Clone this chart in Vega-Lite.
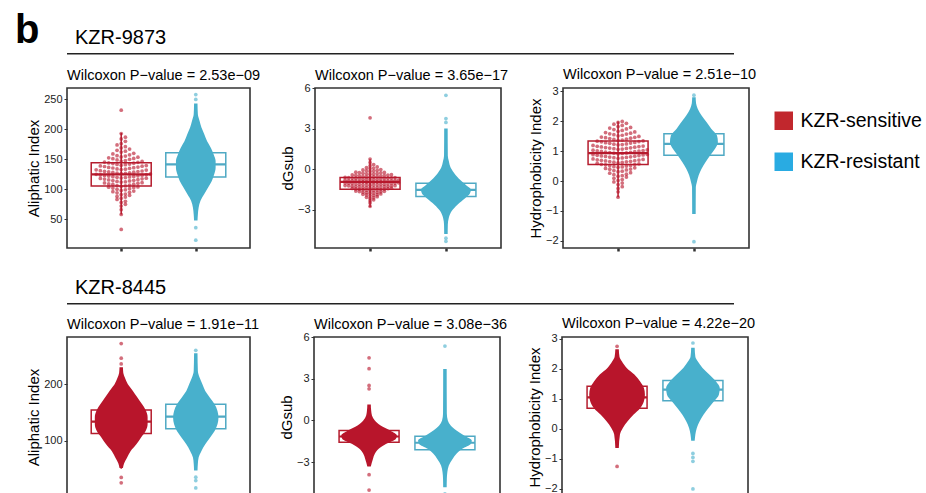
{
  "$schema": "https://vega.github.io/schema/vega-lite/v6.json",
  "background": "white",
  "padding": {"left": 15, "top": 11, "right": 10, "bottom": 0},
  "title": {"text": "b", "fontSize": 40, "fontWeight": "bold", "anchor": "start", "dx": -52, "offset": -23},
  "config": {
    "font": "Liberation Sans",
    "view": {"stroke": "#333333", "strokeWidth": 1.6},
    "title": {"fontSize": 14.5, "fontWeight": "normal", "anchor": "start", "color": "#000000", "offset": 5, "frame": "group"},
    "axis": {"grid": false, "domain": false, "tickColor": "#333333", "labelColor": "#222222", "labelFontSize": 11, "titleFontSize": 15, "titleFontWeight": "normal", "titleColor": "#000000", "tickSize": 3, "labelPadding": 2, "titlePadding": 2, "labelOverlap": false, "labelSeparation": 0, "labelBound": false, "labelFlush": false},
    "axisX": {"labels": false, "tickWidth": 2.5, "tickSize": 3},
    "axisY": {"tickWidth": 1, "labelOverlap": false}
  },
  "datasets": {
    "groups": [{"grp": "KZR-sensitive"}, {"grp": "KZR-resistant"}],
    "box": [
      {"p":"A1","g":"S","lo":58,"q1":105.5,"med":125,"q3":144.4,"hi":194},
      {"p":"A1","g":"R","lo":60,"q1":120.5,"med":141.5,"q3":161,"hi":221},
      {"p":"A2","g":"S","lo":-2.79,"q1":-1.48,"med":-0.94,"q3":-0.62,"hi":0.74},
      {"p":"A2","g":"R","lo":-3.49,"q1":-2.02,"med":-1.53,"q3":-1.04,"hi":0.43},
      {"p":"A3","g":"S","lo":-0.54,"q1":0.55,"med":0.93,"q3":1.34,"hi":1.99},
      {"p":"A3","g":"R","lo":-0.22,"q1":0.86,"med":1.24,"q3":1.58,"hi":2.66},
      {"p":"B1","g":"S","lo":51,"q1":112.9,"med":134,"q3":154.7,"hi":217},
      {"p":"B1","g":"R","lo":58,"q1":121.7,"med":142.9,"q3":164.7,"hi":229},
      {"p":"B2","g":"S","lo":-2.8,"q1":-1.56,"med":-1.15,"q3":-0.72,"hi":0.5},
      {"p":"B2","g":"R","lo":-3.58,"q1":-2.11,"med":-1.6,"q3":-1.13,"hi":0.34},
      {"p":"B3","g":"S","lo":-0.4,"q1":0.69,"med":1.05,"q3":1.42,"hi":2.5},
      {"p":"B3","g":"R","lo":-0.07,"q1":0.94,"med":1.31,"q3":1.61,"hi":2.6}
    ],
    "vio": [
      {"p":"A1","g":"R","v":48,"w":0.023},{"p":"A1","g":"R","v":58,"w":0.028},{"p":"A1","g":"R","v":69,"w":0.038},{"p":"A1","g":"R","v":81,"w":0.063},{"p":"A1","g":"R","v":92,"w":0.114},{"p":"A1","g":"R","v":103,"w":0.165},{"p":"A1","g":"R","v":114,"w":0.215},{"p":"A1","g":"R","v":125,"w":0.247},{"p":"A1","g":"R","v":136,"w":0.266},{"p":"A1","g":"R","v":147,"w":0.266},{"p":"A1","g":"R","v":158,"w":0.24},{"p":"A1","g":"R","v":169,"w":0.203},{"p":"A1","g":"R","v":180,"w":0.152},{"p":"A1","g":"R","v":192,"w":0.114},{"p":"A1","g":"R","v":203,"w":0.076},{"p":"A1","g":"R","v":214,"w":0.051},{"p":"A1","g":"R","v":225,"w":0.028},{"p":"A1","g":"R","v":243,"w":0.023},
      {"p":"A2","g":"R","v":-4.8,"w":0.023},{"p":"A2","g":"R","v":-4.1,"w":0.025},{"p":"A2","g":"R","v":-3.6,"w":0.038},{"p":"A2","g":"R","v":-3.1,"w":0.076},{"p":"A2","g":"R","v":-2.63,"w":0.152},{"p":"A2","g":"R","v":-2.15,"w":0.253},{"p":"A2","g":"R","v":-1.8,"w":0.316},{"p":"A2","g":"R","v":-1.5,"w":0.329},{"p":"A2","g":"R","v":-1.2,"w":0.27},{"p":"A2","g":"R","v":-0.93,"w":0.215},{"p":"A2","g":"R","v":-0.43,"w":0.127},{"p":"A2","g":"R","v":0.1,"w":0.063},{"p":"A2","g":"R","v":0.6,"w":0.038},{"p":"A2","g":"R","v":1.0,"w":0.025},{"p":"A2","g":"R","v":3.0,"w":0.023},
      {"p":"A3","g":"R","v":-1.1,"w":0.023},{"p":"A3","g":"R","v":-0.2,"w":0.025},{"p":"A3","g":"R","v":-0.04,"w":0.038},{"p":"A3","g":"R","v":0.19,"w":0.063},{"p":"A3","g":"R","v":0.41,"w":0.101},{"p":"A3","g":"R","v":0.63,"w":0.152},{"p":"A3","g":"R","v":0.86,"w":0.215},{"p":"A3","g":"R","v":1.08,"w":0.278},{"p":"A3","g":"R","v":1.3,"w":0.316},{"p":"A3","g":"R","v":1.52,"w":0.304},{"p":"A3","g":"R","v":1.75,"w":0.228},{"p":"A3","g":"R","v":1.97,"w":0.165},{"p":"A3","g":"R","v":2.19,"w":0.101},{"p":"A3","g":"R","v":2.41,"w":0.051},{"p":"A3","g":"R","v":2.6,"w":0.028},{"p":"A3","g":"R","v":2.8,"w":0.023},
      {"p":"B1","g":"S","v":52,"w":0.023},{"p":"B1","g":"S","v":60,"w":0.038},{"p":"B1","g":"S","v":70,"w":0.076},{"p":"B1","g":"S","v":82,"w":0.127},{"p":"B1","g":"S","v":94,"w":0.203},{"p":"B1","g":"S","v":106,"w":0.266},{"p":"B1","g":"S","v":118,"w":0.329},{"p":"B1","g":"S","v":130,"w":0.354},{"p":"B1","g":"S","v":142,"w":0.354},{"p":"B1","g":"S","v":154,"w":0.329},{"p":"B1","g":"S","v":165,"w":0.278},{"p":"B1","g":"S","v":177,"w":0.215},{"p":"B1","g":"S","v":189,"w":0.152},{"p":"B1","g":"S","v":200,"w":0.089},{"p":"B1","g":"S","v":211,"w":0.051},{"p":"B1","g":"S","v":220,"w":0.028},{"p":"B1","g":"S","v":230,"w":0.023},
      {"p":"B1","g":"R","v":48,"w":0.023},{"p":"B1","g":"R","v":60,"w":0.028},{"p":"B1","g":"R","v":70.6,"w":0.038},{"p":"B1","g":"R","v":82.3,"w":0.076},{"p":"B1","g":"R","v":94.2,"w":0.127},{"p":"B1","g":"R","v":105.8,"w":0.19},{"p":"B1","g":"R","v":117.6,"w":0.253},{"p":"B1","g":"R","v":129.4,"w":0.291},{"p":"B1","g":"R","v":141.1,"w":0.304},{"p":"B1","g":"R","v":152.9,"w":0.291},{"p":"B1","g":"R","v":164.7,"w":0.253},{"p":"B1","g":"R","v":176.4,"w":0.19},{"p":"B1","g":"R","v":188.2,"w":0.127},{"p":"B1","g":"R","v":200,"w":0.089},{"p":"B1","g":"R","v":211.8,"w":0.051},{"p":"B1","g":"R","v":223.5,"w":0.028},{"p":"B1","g":"R","v":255,"w":0.023},
      {"p":"B2","g":"S","v":-3.3,"w":0.023},{"p":"B2","g":"S","v":-2.76,"w":0.051},{"p":"B2","g":"S","v":-2.4,"w":0.076},{"p":"B2","g":"S","v":-2.04,"w":0.127},{"p":"B2","g":"S","v":-1.68,"w":0.228},{"p":"B2","g":"S","v":-1.32,"w":0.354},{"p":"B2","g":"S","v":-1.08,"w":0.367},{"p":"B2","g":"S","v":-0.72,"w":0.278},{"p":"B2","g":"S","v":-0.36,"w":0.152},{"p":"B2","g":"S","v":0,"w":0.076},{"p":"B2","g":"S","v":0.36,"w":0.038},{"p":"B2","g":"S","v":0.7,"w":0.028},{"p":"B2","g":"S","v":1.15,"w":0.023},
      {"p":"B2","g":"R","v":-4.8,"w":0.023},{"p":"B2","g":"R","v":-4.2,"w":0.025},{"p":"B2","g":"R","v":-3.7,"w":0.032},{"p":"B2","g":"R","v":-3.24,"w":0.051},{"p":"B2","g":"R","v":-2.76,"w":0.101},{"p":"B2","g":"R","v":-2.4,"w":0.152},{"p":"B2","g":"R","v":-2.04,"w":0.228},{"p":"B2","g":"R","v":-1.68,"w":0.342},{"p":"B2","g":"R","v":-1.44,"w":0.354},{"p":"B2","g":"R","v":-1.08,"w":0.253},{"p":"B2","g":"R","v":-0.72,"w":0.152},{"p":"B2","g":"R","v":-0.36,"w":0.076},{"p":"B2","g":"R","v":0,"w":0.038},{"p":"B2","g":"R","v":0.5,"w":0.025},{"p":"B2","g":"R","v":3.7,"w":0.023},
      {"p":"B3","g":"S","v":-0.64,"w":0.023},{"p":"B3","g":"S","v":-0.19,"w":0.038},{"p":"B3","g":"S","v":0.03,"w":0.076},{"p":"B3","g":"S","v":0.25,"w":0.139},{"p":"B3","g":"S","v":0.47,"w":0.215},{"p":"B3","g":"S","v":0.69,"w":0.304},{"p":"B3","g":"S","v":0.92,"w":0.354},{"p":"B3","g":"S","v":1.14,"w":0.367},{"p":"B3","g":"S","v":1.36,"w":0.354},{"p":"B3","g":"S","v":1.58,"w":0.304},{"p":"B3","g":"S","v":1.81,"w":0.228},{"p":"B3","g":"S","v":2.03,"w":0.127},{"p":"B3","g":"S","v":2.25,"w":0.063},{"p":"B3","g":"S","v":2.4,"w":0.032},{"p":"B3","g":"S","v":2.65,"w":0.023},
      {"p":"B3","g":"R","v":-0.4,"w":0.023},{"p":"B3","g":"R","v":-0.19,"w":0.032},{"p":"B3","g":"R","v":0.03,"w":0.051},{"p":"B3","g":"R","v":0.25,"w":0.089},{"p":"B3","g":"R","v":0.47,"w":0.139},{"p":"B3","g":"R","v":0.69,"w":0.203},{"p":"B3","g":"R","v":0.92,"w":0.278},{"p":"B3","g":"R","v":1.14,"w":0.342},{"p":"B3","g":"R","v":1.36,"w":0.354},{"p":"B3","g":"R","v":1.58,"w":0.304},{"p":"B3","g":"R","v":1.81,"w":0.215},{"p":"B3","g":"R","v":2.03,"w":0.127},{"p":"B3","g":"R","v":2.25,"w":0.063},{"p":"B3","g":"R","v":2.4,"w":0.032},{"p":"B3","g":"R","v":2.7,"w":0.023}
    ],
    "pts": [
      {"p":"A1","g":"S","v":58},{"p":"A1","g":"S","v":66},{"p":"A1","g":"S","v":72},{"p":"A1","g":"S","v":75},{"p":"A1","g":"S","v":78},{"p":"A1","g":"S","v":80},{"p":"A1","g":"S","v":83},{"p":"A1","g":"S","v":85},{"p":"A1","g":"S","v":87},{"p":"A1","g":"S","v":88},{"p":"A1","g":"S","v":90},{"p":"A1","g":"S","v":91},{"p":"A1","g":"S","v":92},{"p":"A1","g":"S","v":94},{"p":"A1","g":"S","v":95},{"p":"A1","g":"S","v":96},{"p":"A1","g":"S","v":97},{"p":"A1","g":"S","v":98},{"p":"A1","g":"S","v":99},{"p":"A1","g":"S","v":100},{"p":"A1","g":"S","v":101},{"p":"A1","g":"S","v":102},{"p":"A1","g":"S","v":103},{"p":"A1","g":"S","v":103.5},{"p":"A1","g":"S","v":104},{"p":"A1","g":"S","v":105},{"p":"A1","g":"S","v":105.5},{"p":"A1","g":"S","v":106},{"p":"A1","g":"S","v":107},{"p":"A1","g":"S","v":108},{"p":"A1","g":"S","v":108.5},{"p":"A1","g":"S","v":109},{"p":"A1","g":"S","v":110},{"p":"A1","g":"S","v":110.5},{"p":"A1","g":"S","v":111},{"p":"A1","g":"S","v":112},{"p":"A1","g":"S","v":112.5},{"p":"A1","g":"S","v":113},{"p":"A1","g":"S","v":114},{"p":"A1","g":"S","v":114.5},{"p":"A1","g":"S","v":115},{"p":"A1","g":"S","v":115.5},{"p":"A1","g":"S","v":116},{"p":"A1","g":"S","v":117},{"p":"A1","g":"S","v":117.5},{"p":"A1","g":"S","v":118},{"p":"A1","g":"S","v":118.5},{"p":"A1","g":"S","v":119},{"p":"A1","g":"S","v":119.5},{"p":"A1","g":"S","v":120},{"p":"A1","g":"S","v":120.5},{"p":"A1","g":"S","v":121},{"p":"A1","g":"S","v":121.5},{"p":"A1","g":"S","v":122},{"p":"A1","g":"S","v":122.5},{"p":"A1","g":"S","v":123},{"p":"A1","g":"S","v":123.5},{"p":"A1","g":"S","v":124},{"p":"A1","g":"S","v":124.5},{"p":"A1","g":"S","v":125},{"p":"A1","g":"S","v":125.5},{"p":"A1","g":"S","v":126},{"p":"A1","g":"S","v":126.5},{"p":"A1","g":"S","v":127},{"p":"A1","g":"S","v":127.5},{"p":"A1","g":"S","v":128},{"p":"A1","g":"S","v":128.5},{"p":"A1","g":"S","v":129},{"p":"A1","g":"S","v":129.5},{"p":"A1","g":"S","v":130},{"p":"A1","g":"S","v":130.5},{"p":"A1","g":"S","v":131},{"p":"A1","g":"S","v":132},{"p":"A1","g":"S","v":132.5},{"p":"A1","g":"S","v":133},{"p":"A1","g":"S","v":133.5},{"p":"A1","g":"S","v":134},{"p":"A1","g":"S","v":135},{"p":"A1","g":"S","v":135.5},{"p":"A1","g":"S","v":136},{"p":"A1","g":"S","v":136.5},{"p":"A1","g":"S","v":137},{"p":"A1","g":"S","v":138},{"p":"A1","g":"S","v":138.5},{"p":"A1","g":"S","v":139},{"p":"A1","g":"S","v":139.5},{"p":"A1","g":"S","v":140},{"p":"A1","g":"S","v":141},{"p":"A1","g":"S","v":141.5},{"p":"A1","g":"S","v":142},{"p":"A1","g":"S","v":143},{"p":"A1","g":"S","v":143.5},{"p":"A1","g":"S","v":144},{"p":"A1","g":"S","v":145},{"p":"A1","g":"S","v":145.5},{"p":"A1","g":"S","v":146.5},{"p":"A1","g":"S","v":147},{"p":"A1","g":"S","v":148},{"p":"A1","g":"S","v":149},{"p":"A1","g":"S","v":150},{"p":"A1","g":"S","v":151},{"p":"A1","g":"S","v":151.5},{"p":"A1","g":"S","v":152.5},{"p":"A1","g":"S","v":153.5},{"p":"A1","g":"S","v":154},{"p":"A1","g":"S","v":155.5},{"p":"A1","g":"S","v":156},{"p":"A1","g":"S","v":157.5},{"p":"A1","g":"S","v":159},{"p":"A1","g":"S","v":160},{"p":"A1","g":"S","v":162},{"p":"A1","g":"S","v":163.5},{"p":"A1","g":"S","v":165},{"p":"A1","g":"S","v":167},{"p":"A1","g":"S","v":169},{"p":"A1","g":"S","v":171},{"p":"A1","g":"S","v":174},{"p":"A1","g":"S","v":176},{"p":"A1","g":"S","v":180},{"p":"A1","g":"S","v":184},{"p":"A1","g":"S","v":187},{"p":"A1","g":"S","v":193},{"p":"A1","g":"S","v":232},{"p":"A1","g":"S","v":33},
      {"p":"A1","g":"R","v":258},{"p":"A1","g":"R","v":250},{"p":"A1","g":"R","v":36},{"p":"A1","g":"R","v":15},
      {"p":"A2","g":"S","v":-2.75},{"p":"A2","g":"S","v":-2.5},{"p":"A2","g":"S","v":-2.33},{"p":"A2","g":"S","v":-2.27},{"p":"A2","g":"S","v":-2.16},{"p":"A2","g":"S","v":-2.12},{"p":"A2","g":"S","v":-2.08},{"p":"A2","g":"S","v":-2.04},{"p":"A2","g":"S","v":-1.97},{"p":"A2","g":"S","v":-1.94},{"p":"A2","g":"S","v":-1.91},{"p":"A2","g":"S","v":-1.89},{"p":"A2","g":"S","v":-1.86},{"p":"A2","g":"S","v":-1.83},{"p":"A2","g":"S","v":-1.78},{"p":"A2","g":"S","v":-1.76},{"p":"A2","g":"S","v":-1.74},{"p":"A2","g":"S","v":-1.72},{"p":"A2","g":"S","v":-1.7},{"p":"A2","g":"S","v":-1.68},{"p":"A2","g":"S","v":-1.66},{"p":"A2","g":"S","v":-1.64},{"p":"A2","g":"S","v":-1.62},{"p":"A2","g":"S","v":-1.59},{"p":"A2","g":"S","v":-1.57},{"p":"A2","g":"S","v":-1.56},{"p":"A2","g":"S","v":-1.54},{"p":"A2","g":"S","v":-1.53},{"p":"A2","g":"S","v":-1.51},{"p":"A2","g":"S","v":-1.49},{"p":"A2","g":"S","v":-1.47},{"p":"A2","g":"S","v":-1.46},{"p":"A2","g":"S","v":-1.44},{"p":"A2","g":"S","v":-1.43},{"p":"A2","g":"S","v":-1.41},{"p":"A2","g":"S","v":-1.39},{"p":"A2","g":"S","v":-1.38},{"p":"A2","g":"S","v":-1.36},{"p":"A2","g":"S","v":-1.35},{"p":"A2","g":"S","v":-1.34},{"p":"A2","g":"S","v":-1.32},{"p":"A2","g":"S","v":-1.31},{"p":"A2","g":"S","v":-1.3},{"p":"A2","g":"S","v":-1.29},{"p":"A2","g":"S","v":-1.27},{"p":"A2","g":"S","v":-1.26},{"p":"A2","g":"S","v":-1.25},{"p":"A2","g":"S","v":-1.23},{"p":"A2","g":"S","v":-1.22},{"p":"A2","g":"S","v":-1.21},{"p":"A2","g":"S","v":-1.19},{"p":"A2","g":"S","v":-1.18},{"p":"A2","g":"S","v":-1.17},{"p":"A2","g":"S","v":-1.16},{"p":"A2","g":"S","v":-1.15},{"p":"A2","g":"S","v":-1.13},{"p":"A2","g":"S","v":-1.12},{"p":"A2","g":"S","v":-1.11},{"p":"A2","g":"S","v":-1.09},{"p":"A2","g":"S","v":-1.08},{"p":"A2","g":"S","v":-1.07},{"p":"A2","g":"S","v":-1.06},{"p":"A2","g":"S","v":-1.04},{"p":"A2","g":"S","v":-1.03},{"p":"A2","g":"S","v":-1.02},{"p":"A2","g":"S","v":-1.01},{"p":"A2","g":"S","v":-0.99},{"p":"A2","g":"S","v":-0.98},{"p":"A2","g":"S","v":-0.97},{"p":"A2","g":"S","v":-0.96},{"p":"A2","g":"S","v":-0.94},{"p":"A2","g":"S","v":-0.93},{"p":"A2","g":"S","v":-0.92},{"p":"A2","g":"S","v":-0.91},{"p":"A2","g":"S","v":-0.89},{"p":"A2","g":"S","v":-0.88},{"p":"A2","g":"S","v":-0.87},{"p":"A2","g":"S","v":-0.86},{"p":"A2","g":"S","v":-0.84},{"p":"A2","g":"S","v":-0.83},{"p":"A2","g":"S","v":-0.82},{"p":"A2","g":"S","v":-0.81},{"p":"A2","g":"S","v":-0.79},{"p":"A2","g":"S","v":-0.78},{"p":"A2","g":"S","v":-0.76},{"p":"A2","g":"S","v":-0.75},{"p":"A2","g":"S","v":-0.74},{"p":"A2","g":"S","v":-0.72},{"p":"A2","g":"S","v":-0.71},{"p":"A2","g":"S","v":-0.7},{"p":"A2","g":"S","v":-0.69},{"p":"A2","g":"S","v":-0.67},{"p":"A2","g":"S","v":-0.66},{"p":"A2","g":"S","v":-0.65},{"p":"A2","g":"S","v":-0.63},{"p":"A2","g":"S","v":-0.62},{"p":"A2","g":"S","v":-0.61},{"p":"A2","g":"S","v":-0.59},{"p":"A2","g":"S","v":-0.57},{"p":"A2","g":"S","v":-0.56},{"p":"A2","g":"S","v":-0.54},{"p":"A2","g":"S","v":-0.53},{"p":"A2","g":"S","v":-0.51},{"p":"A2","g":"S","v":-0.49},{"p":"A2","g":"S","v":-0.47},{"p":"A2","g":"S","v":-0.46},{"p":"A2","g":"S","v":-0.44},{"p":"A2","g":"S","v":-0.43},{"p":"A2","g":"S","v":-0.41},{"p":"A2","g":"S","v":-0.38},{"p":"A2","g":"S","v":-0.36},{"p":"A2","g":"S","v":-0.34},{"p":"A2","g":"S","v":-0.32},{"p":"A2","g":"S","v":-0.3},{"p":"A2","g":"S","v":-0.28},{"p":"A2","g":"S","v":-0.26},{"p":"A2","g":"S","v":-0.24},{"p":"A2","g":"S","v":-0.22},{"p":"A2","g":"S","v":-0.17},{"p":"A2","g":"S","v":-0.14},{"p":"A2","g":"S","v":-0.11},{"p":"A2","g":"S","v":-0.09},{"p":"A2","g":"S","v":-0.06},{"p":"A2","g":"S","v":-0.03},{"p":"A2","g":"S","v":0.04},{"p":"A2","g":"S","v":0.08},{"p":"A2","g":"S","v":0.12},{"p":"A2","g":"S","v":0.16},{"p":"A2","g":"S","v":0.26},{"p":"A2","g":"S","v":0.34},{"p":"A2","g":"S","v":0.5},{"p":"A2","g":"S","v":0.75},{"p":"A2","g":"S","v":3.8},
      {"p":"A2","g":"R","v":5.46},{"p":"A2","g":"R","v":3.74},{"p":"A2","g":"R","v":3.45},{"p":"A2","g":"R","v":-5.1},{"p":"A2","g":"R","v":-5.34},
      {"p":"A3","g":"S","v":-0.54},{"p":"A3","g":"S","v":-0.36},{"p":"A3","g":"S","v":-0.25},{"p":"A3","g":"S","v":-0.19},{"p":"A3","g":"S","v":-0.12},{"p":"A3","g":"S","v":-0.07},{"p":"A3","g":"S","v":-0.03},{"p":"A3","g":"S","v":0.02},{"p":"A3","g":"S","v":0.05},{"p":"A3","g":"S","v":0.09},{"p":"A3","g":"S","v":0.13},{"p":"A3","g":"S","v":0.16},{"p":"A3","g":"S","v":0.18},{"p":"A3","g":"S","v":0.21},{"p":"A3","g":"S","v":0.23},{"p":"A3","g":"S","v":0.26},{"p":"A3","g":"S","v":0.28},{"p":"A3","g":"S","v":0.31},{"p":"A3","g":"S","v":0.33},{"p":"A3","g":"S","v":0.35},{"p":"A3","g":"S","v":0.37},{"p":"A3","g":"S","v":0.39},{"p":"A3","g":"S","v":0.4},{"p":"A3","g":"S","v":0.42},{"p":"A3","g":"S","v":0.44},{"p":"A3","g":"S","v":0.46},{"p":"A3","g":"S","v":0.47},{"p":"A3","g":"S","v":0.48},{"p":"A3","g":"S","v":0.5},{"p":"A3","g":"S","v":0.51},{"p":"A3","g":"S","v":0.52},{"p":"A3","g":"S","v":0.54},{"p":"A3","g":"S","v":0.55},{"p":"A3","g":"S","v":0.56},{"p":"A3","g":"S","v":0.57},{"p":"A3","g":"S","v":0.59},{"p":"A3","g":"S","v":0.61},{"p":"A3","g":"S","v":0.62},{"p":"A3","g":"S","v":0.63},{"p":"A3","g":"S","v":0.64},{"p":"A3","g":"S","v":0.65},{"p":"A3","g":"S","v":0.66},{"p":"A3","g":"S","v":0.67},{"p":"A3","g":"S","v":0.68},{"p":"A3","g":"S","v":0.69},{"p":"A3","g":"S","v":0.7},{"p":"A3","g":"S","v":0.71},{"p":"A3","g":"S","v":0.72},{"p":"A3","g":"S","v":0.74},{"p":"A3","g":"S","v":0.76},{"p":"A3","g":"S","v":0.77},{"p":"A3","g":"S","v":0.78},{"p":"A3","g":"S","v":0.79},{"p":"A3","g":"S","v":0.8},{"p":"A3","g":"S","v":0.81},{"p":"A3","g":"S","v":0.82},{"p":"A3","g":"S","v":0.83},{"p":"A3","g":"S","v":0.84},{"p":"A3","g":"S","v":0.85},{"p":"A3","g":"S","v":0.86},{"p":"A3","g":"S","v":0.87},{"p":"A3","g":"S","v":0.88},{"p":"A3","g":"S","v":0.89},{"p":"A3","g":"S","v":0.91},{"p":"A3","g":"S","v":0.92},{"p":"A3","g":"S","v":0.93},{"p":"A3","g":"S","v":0.94},{"p":"A3","g":"S","v":0.95},{"p":"A3","g":"S","v":0.96},{"p":"A3","g":"S","v":0.97},{"p":"A3","g":"S","v":0.98},{"p":"A3","g":"S","v":0.99},{"p":"A3","g":"S","v":1.0},{"p":"A3","g":"S","v":1.01},{"p":"A3","g":"S","v":1.02},{"p":"A3","g":"S","v":1.03},{"p":"A3","g":"S","v":1.04},{"p":"A3","g":"S","v":1.06},{"p":"A3","g":"S","v":1.07},{"p":"A3","g":"S","v":1.08},{"p":"A3","g":"S","v":1.09},{"p":"A3","g":"S","v":1.1},{"p":"A3","g":"S","v":1.11},{"p":"A3","g":"S","v":1.12},{"p":"A3","g":"S","v":1.13},{"p":"A3","g":"S","v":1.14},{"p":"A3","g":"S","v":1.15},{"p":"A3","g":"S","v":1.16},{"p":"A3","g":"S","v":1.17},{"p":"A3","g":"S","v":1.19},{"p":"A3","g":"S","v":1.21},{"p":"A3","g":"S","v":1.22},{"p":"A3","g":"S","v":1.23},{"p":"A3","g":"S","v":1.24},{"p":"A3","g":"S","v":1.26},{"p":"A3","g":"S","v":1.27},{"p":"A3","g":"S","v":1.28},{"p":"A3","g":"S","v":1.29},{"p":"A3","g":"S","v":1.31},{"p":"A3","g":"S","v":1.32},{"p":"A3","g":"S","v":1.33},{"p":"A3","g":"S","v":1.34},{"p":"A3","g":"S","v":1.36},{"p":"A3","g":"S","v":1.37},{"p":"A3","g":"S","v":1.39},{"p":"A3","g":"S","v":1.4},{"p":"A3","g":"S","v":1.42},{"p":"A3","g":"S","v":1.43},{"p":"A3","g":"S","v":1.45},{"p":"A3","g":"S","v":1.46},{"p":"A3","g":"S","v":1.47},{"p":"A3","g":"S","v":1.49},{"p":"A3","g":"S","v":1.51},{"p":"A3","g":"S","v":1.53},{"p":"A3","g":"S","v":1.55},{"p":"A3","g":"S","v":1.57},{"p":"A3","g":"S","v":1.58},{"p":"A3","g":"S","v":1.6},{"p":"A3","g":"S","v":1.62},{"p":"A3","g":"S","v":1.64},{"p":"A3","g":"S","v":1.66},{"p":"A3","g":"S","v":1.69},{"p":"A3","g":"S","v":1.72},{"p":"A3","g":"S","v":1.74},{"p":"A3","g":"S","v":1.77},{"p":"A3","g":"S","v":1.79},{"p":"A3","g":"S","v":1.82},{"p":"A3","g":"S","v":1.86},{"p":"A3","g":"S","v":1.9},{"p":"A3","g":"S","v":1.93},{"p":"A3","g":"S","v":1.96},{"p":"A3","g":"S","v":1.99},
      {"p":"A3","g":"R","v":2.87},{"p":"A3","g":"R","v":-2.03},
      {"p":"B1","g":"S","v":272},{"p":"B1","g":"S","v":246},{"p":"B1","g":"S","v":236},{"p":"B1","g":"S","v":35.5},{"p":"B1","g":"S","v":26},
      {"p":"B1","g":"R","v":260},{"p":"B1","g":"R","v":36},{"p":"B1","g":"R","v":30},{"p":"B1","g":"R","v":17},
      {"p":"B2","g":"S","v":4.5},{"p":"B2","g":"S","v":3.72},{"p":"B2","g":"S","v":2.52},{"p":"B2","g":"S","v":2.28},{"p":"B2","g":"S","v":-3.9},{"p":"B2","g":"S","v":-5.0},
      {"p":"B2","g":"R","v":5.35},{"p":"B2","g":"R","v":-5.27},
      {"p":"B3","g":"S","v":2.75},{"p":"B3","g":"S","v":-1.25},
      {"p":"B3","g":"R","v":2.86},{"p":"B3","g":"R","v":-0.82},{"p":"B3","g":"R","v":-0.95},{"p":"B3","g":"R","v":-1.08},{"p":"B3","g":"R","v":-2.0}
    ]
  },
  "vconcat": [
    {
      "vconcat": [
        {"width": 667, "height": 1.5, "data": {"values": []}, "mark": "point", "view": {"fill": "#222222", "stroke": null}, "title": {"text": "KZR-9873", "fontSize": 20, "dx": 8, "offset": 5}},
        {"hconcat": [
          {"width": 183, "height": 160, "title": {"text": "Wilcoxon P−value = 2.53e−09"},
           "layer": [
             {"data": {"name": "box"}, "transform": [{"filter": "datum.p == 'A1'"}, {"calculate": "datum.g == 'S' ? 1 : 2", "as": "x"}],
              "layer": [
                {"mark": {"type": "rule", "strokeWidth": 1.5}, "encoding": {"x": {"field": "x", "type": "quantitative", "scale": {"domain": [0.34, 2.66], "nice": false, "zero": false}, "axis": {"values": [1, 2]}, "title": null}, "y": {"field": "lo", "type": "quantitative", "scale": {"domain": [2, 269], "nice": false, "zero": false}, "axis": {"values": [50, 100, 150, 200, 250], "labelOverlap": false}, "title": "Aliphatic Index"}, "y2": {"field": "hi"}, "stroke": {"field": "g", "type": "nominal", "scale": {"domain": ["S", "R"], "range": ["#b51d2e", "#4fa9c4"]}, "legend": null}}},
                {"mark": {"type": "bar", "size": 60, "filled": false, "strokeWidth": 1.5}, "encoding": {"x": {"field": "x", "type": "quantitative", "title": null}, "y": {"field": "q1", "type": "quantitative", "axis": {"values": [50, 100, 150, 200, 250], "labelOverlap": false}, "title": "Aliphatic Index"}, "y2": {"field": "q3"}, "stroke": {"field": "g", "type": "nominal", "legend": null}}},
                {"mark": {"type": "bar", "size": 60, "filled": false, "strokeWidth": 2.2}, "encoding": {"x": {"field": "x", "type": "quantitative", "title": null}, "y": {"field": "med", "type": "quantitative", "axis": {"values": [50, 100, 150, 200, 250], "labelOverlap": false}, "title": "Aliphatic Index"}, "y2": {"field": "med"}, "stroke": {"field": "g", "type": "nominal", "legend": null}}}
              ]},
             {"data": {"name": "groups"},
              "mark": {"type": "square", "size": 0, "opacity": 1},
              "encoding": {"color": {"field": "grp", "type": "nominal", "scale": {"domain": ["KZR-sensitive", "KZR-resistant"], "range": ["#c1272d", "#29abe2"]}, "legend": {"title": null, "orient": "none", "legendX": 707, "legendY": 58, "symbolType": "square", "symbolSize": 342, "symbolStrokeWidth": 0, "symbolOpacity": 1, "labelFontSize": 19.5, "labelColor": "#000000", "labelOffset": 7, "rowPadding": 20}}}},
             {"data": {"name": "vio"}, "transform": [{"filter": "datum.p == 'A1'"}, {"calculate": "datum.g == 'S' ? 1 : 2", "as": "x"}, {"calculate": "datum.x - datum.w", "as": "x0"}, {"calculate": "datum.x + datum.w", "as": "x1"}],
              "mark": {"type": "area", "orient": "horizontal", "interpolate": "monotone"},
              "encoding": {"y": {"field": "v", "type": "quantitative", "axis": {"values": [50, 100, 150, 200, 250], "labelOverlap": false}, "title": "Aliphatic Index"}, "x": {"field": "x0", "type": "quantitative", "title": null}, "x2": {"field": "x1"}, "fill": {"field": "g", "type": "nominal", "scale": {"domain": ["S", "R"], "range": ["#b8152b", "#48b0cc"]}, "legend": null}}},
             {"data": {"name": "pts"}, "transform": [{"filter": "datum.p == 'A1'"}, {"calculate": "datum.g == 'S' ? 1 : 2", "as": "x"}, {"bin": {"step": 7, "anchor": 0}, "field": "v", "as": "vb"}, {"window": [{"op": "row_number", "as": "r"}], "groupby": ["g", "vb"]}, {"calculate": "datum.x + (datum.r % 2 == 0 ? 1 : -1) * floor(datum.r / 2) * 0.056", "as": "px"}],
              "mark": {"type": "circle", "size": 14, "opacity": 0.62},
              "encoding": {"y": {"field": "v", "type": "quantitative", "axis": {"values": [50, 100, 150, 200, 250], "labelOverlap": false}, "title": "Aliphatic Index"}, "x": {"field": "px", "type": "quantitative", "title": null}, "fill": {"field": "g", "type": "nominal", "legend": null}}}
           ]},
          {"width": 186, "height": 160, "title": {"text": "Wilcoxon P−value = 3.65e−17", "offset": -1},
           "layer": [
             {"data": {"name": "box"}, "transform": [{"filter": "datum.p == 'A2'"}, {"calculate": "datum.g == 'S' ? 1 : 2", "as": "x"}],
              "layer": [
                {"mark": {"type": "rule", "strokeWidth": 1.5}, "encoding": {"x": {"field": "x", "type": "quantitative", "scale": {"domain": [0.34, 2.66], "nice": false, "zero": false}, "axis": {"values": [1, 2]}, "title": null}, "y": {"field": "lo", "type": "quantitative", "scale": {"domain": [-5.83, 6], "nice": false, "zero": false}, "axis": {"values": [-3, 0, 3, 6], "labelOverlap": false}, "title": "dGsub"}, "y2": {"field": "hi"}, "stroke": {"field": "g", "type": "nominal", "legend": null}}},
                {"mark": {"type": "bar", "size": 60, "filled": false, "strokeWidth": 1.5}, "encoding": {"x": {"field": "x", "type": "quantitative", "title": null}, "y": {"field": "q1", "type": "quantitative", "axis": {"values": [-3, 0, 3, 6], "labelOverlap": false}, "title": "dGsub"}, "y2": {"field": "q3"}, "stroke": {"field": "g", "type": "nominal", "legend": null}}},
                {"mark": {"type": "bar", "size": 60, "filled": false, "strokeWidth": 2.2}, "encoding": {"x": {"field": "x", "type": "quantitative", "title": null}, "y": {"field": "med", "type": "quantitative", "axis": {"values": [-3, 0, 3, 6], "labelOverlap": false}, "title": "dGsub"}, "y2": {"field": "med"}, "stroke": {"field": "g", "type": "nominal", "legend": null}}}
              ]},
             {"data": {"name": "vio"}, "transform": [{"filter": "datum.p == 'A2'"}, {"calculate": "datum.g == 'S' ? 1 : 2", "as": "x"}, {"calculate": "datum.x - datum.w", "as": "x0"}, {"calculate": "datum.x + datum.w", "as": "x1"}],
              "mark": {"type": "area", "orient": "horizontal", "interpolate": "monotone"},
              "encoding": {"y": {"field": "v", "type": "quantitative", "axis": {"values": [-3, 0, 3, 6], "labelOverlap": false}, "title": "dGsub"}, "x": {"field": "x0", "type": "quantitative", "title": null}, "x2": {"field": "x1"}, "fill": {"field": "g", "type": "nominal", "legend": null}}},
             {"data": {"name": "pts"}, "transform": [{"filter": "datum.p == 'A2'"}, {"calculate": "datum.g == 'S' ? 1 : 2", "as": "x"}, {"bin": {"step": 0.2, "anchor": 0}, "field": "v", "as": "vb"}, {"window": [{"op": "row_number", "as": "r"}], "groupby": ["g", "vb"]}, {"calculate": "datum.x + (datum.r % 2 == 0 ? 1 : -1) * floor(datum.r / 2) * 0.047", "as": "px"}],
              "mark": {"type": "circle", "size": 14, "opacity": 0.62},
              "encoding": {"y": {"field": "v", "type": "quantitative", "axis": {"values": [-3, 0, 3, 6], "labelOverlap": false}, "title": "dGsub"}, "x": {"field": "px", "type": "quantitative", "title": null}, "fill": {"field": "g", "type": "nominal", "legend": null}}}
           ]},
          {"width": 186, "height": 160, "title": {"text": "Wilcoxon P−value = 2.51e−10", "offset": 3},
           "layer": [
             {"data": {"name": "box"}, "transform": [{"filter": "datum.p == 'A3'"}, {"calculate": "datum.g == 'S' ? 1 : 2", "as": "x"}],
              "layer": [
                {"mark": {"type": "rule", "strokeWidth": 1.5}, "encoding": {"x": {"field": "x", "type": "quantitative", "scale": {"domain": [0.34, 2.66], "nice": false, "zero": false}, "axis": {"values": [1, 2]}, "title": null}, "y": {"field": "lo", "type": "quantitative", "scale": {"domain": [-2.24, 3.11], "nice": false, "zero": false}, "axis": {"values": [-2, -1, 0, 1, 2, 3], "labelOverlap": false}, "title": "Hydrophobicity Index"}, "y2": {"field": "hi"}, "stroke": {"field": "g", "type": "nominal", "legend": null}}},
                {"mark": {"type": "bar", "size": 60, "filled": false, "strokeWidth": 1.5}, "encoding": {"x": {"field": "x", "type": "quantitative", "title": null}, "y": {"field": "q1", "type": "quantitative", "axis": {"values": [-2, -1, 0, 1, 2, 3], "labelOverlap": false}, "title": "Hydrophobicity Index"}, "y2": {"field": "q3"}, "stroke": {"field": "g", "type": "nominal", "legend": null}}},
                {"mark": {"type": "bar", "size": 60, "filled": false, "strokeWidth": 2.2}, "encoding": {"x": {"field": "x", "type": "quantitative", "title": null}, "y": {"field": "med", "type": "quantitative", "axis": {"values": [-2, -1, 0, 1, 2, 3], "labelOverlap": false}, "title": "Hydrophobicity Index"}, "y2": {"field": "med"}, "stroke": {"field": "g", "type": "nominal", "legend": null}}}
              ]},
             {"data": {"name": "vio"}, "transform": [{"filter": "datum.p == 'A3'"}, {"calculate": "datum.g == 'S' ? 1 : 2", "as": "x"}, {"calculate": "datum.x - datum.w", "as": "x0"}, {"calculate": "datum.x + datum.w", "as": "x1"}],
              "mark": {"type": "area", "orient": "horizontal", "interpolate": "monotone"},
              "encoding": {"y": {"field": "v", "type": "quantitative", "axis": {"values": [-2, -1, 0, 1, 2, 3], "labelOverlap": false}, "title": "Hydrophobicity Index"}, "x": {"field": "x0", "type": "quantitative", "title": null}, "x2": {"field": "x1"}, "fill": {"field": "g", "type": "nominal", "legend": null}}},
             {"data": {"name": "pts"}, "transform": [{"filter": "datum.p == 'A3'"}, {"calculate": "datum.g == 'S' ? 1 : 2", "as": "x"}, {"bin": {"step": 0.15, "anchor": 0}, "field": "v", "as": "vb"}, {"window": [{"op": "row_number", "as": "r"}], "groupby": ["g", "vb"]}, {"calculate": "datum.x + (datum.r % 2 == 0 ? 1 : -1) * floor(datum.r / 2) * 0.055", "as": "px"}],
              "mark": {"type": "circle", "size": 14, "opacity": 0.62},
              "encoding": {"y": {"field": "v", "type": "quantitative", "axis": {"values": [-2, -1, 0, 1, 2, 3], "labelOverlap": false}, "title": "Hydrophobicity Index"}, "x": {"field": "px", "type": "quantitative", "title": null}, "fill": {"field": "g", "type": "nominal", "legend": null}}}
           ]}
        ], "spacing": 18}
      ],
      "spacing": 10
    },
    {
      "vconcat": [
        {"width": 667, "height": 1.5, "data": {"values": []}, "mark": "point", "view": {"fill": "#222222", "stroke": null}, "title": {"text": "KZR-8445", "fontSize": 20, "dx": 8, "offset": 5}},
        {"hconcat": [
          {"width": 183, "height": 160, "title": {"text": "Wilcoxon P−value = 1.91e−11"},
           "layer": [
             {"data": {"name": "box"}, "transform": [{"filter": "datum.p == 'B1'"}, {"calculate": "datum.g == 'S' ? 1 : 2", "as": "x"}],
              "layer": [
                {"mark": {"type": "rule", "strokeWidth": 1.5}, "encoding": {"x": {"field": "x", "type": "quantitative", "scale": {"domain": [0.34, 2.66], "nice": false, "zero": false}, "axis": {"values": [1, 2]}, "title": null}, "y": {"field": "lo", "type": "quantitative", "scale": {"domain": [1, 283.5], "nice": false, "zero": false}, "axis": {"values": [100, 200], "labelOverlap": false}, "title": "Aliphatic Index"}, "y2": {"field": "hi"}, "stroke": {"field": "g", "type": "nominal", "legend": null}}},
                {"mark": {"type": "bar", "size": 60, "filled": false, "strokeWidth": 1.5}, "encoding": {"x": {"field": "x", "type": "quantitative", "title": null}, "y": {"field": "q1", "type": "quantitative", "axis": {"values": [100, 200], "labelOverlap": false}, "title": "Aliphatic Index"}, "y2": {"field": "q3"}, "stroke": {"field": "g", "type": "nominal", "legend": null}}},
                {"mark": {"type": "bar", "size": 60, "filled": false, "strokeWidth": 2.2}, "encoding": {"x": {"field": "x", "type": "quantitative", "title": null}, "y": {"field": "med", "type": "quantitative", "axis": {"values": [100, 200], "labelOverlap": false}, "title": "Aliphatic Index"}, "y2": {"field": "med"}, "stroke": {"field": "g", "type": "nominal", "legend": null}}}
              ]},
             {"data": {"name": "vio"}, "transform": [{"filter": "datum.p == 'B1'"}, {"calculate": "datum.g == 'S' ? 1 : 2", "as": "x"}, {"calculate": "datum.x - datum.w", "as": "x0"}, {"calculate": "datum.x + datum.w", "as": "x1"}],
              "mark": {"type": "area", "orient": "horizontal", "interpolate": "monotone"},
              "encoding": {"y": {"field": "v", "type": "quantitative", "axis": {"values": [100, 200], "labelOverlap": false}, "title": "Aliphatic Index"}, "x": {"field": "x0", "type": "quantitative", "title": null}, "x2": {"field": "x1"}, "fill": {"field": "g", "type": "nominal", "legend": null}}},
             {"data": {"name": "pts"}, "transform": [{"filter": "datum.p == 'B1'"}, {"calculate": "datum.g == 'S' ? 1 : 2", "as": "x"}, {"bin": {"step": 7, "anchor": 0}, "field": "v", "as": "vb"}, {"window": [{"op": "row_number", "as": "r"}], "groupby": ["g", "vb"]}, {"calculate": "datum.x + (datum.r % 2 == 0 ? 1 : -1) * floor(datum.r / 2) * 0.056", "as": "px"}],
              "mark": {"type": "circle", "size": 14, "opacity": 0.62},
              "encoding": {"y": {"field": "v", "type": "quantitative", "axis": {"values": [100, 200], "labelOverlap": false}, "title": "Aliphatic Index"}, "x": {"field": "px", "type": "quantitative", "title": null}, "fill": {"field": "g", "type": "nominal", "legend": null}}}
           ]},
          {"width": 186, "height": 160, "title": {"text": "Wilcoxon P−value = 3.08e−36", "offset": -1},
           "layer": [
             {"data": {"name": "box"}, "transform": [{"filter": "datum.p == 'B2'"}, {"calculate": "datum.g == 'S' ? 1 : 2", "as": "x"}],
              "layer": [
                {"mark": {"type": "rule", "strokeWidth": 1.5}, "encoding": {"x": {"field": "x", "type": "quantitative", "scale": {"domain": [0.34, 2.66], "nice": false, "zero": false}, "axis": {"values": [1, 2]}, "title": null}, "y": {"field": "lo", "type": "quantitative", "scale": {"domain": [-5.5, 6], "nice": false, "zero": false}, "axis": {"values": [-3, 0, 3, 6], "labelOverlap": false}, "title": "dGsub"}, "y2": {"field": "hi"}, "stroke": {"field": "g", "type": "nominal", "legend": null}}},
                {"mark": {"type": "bar", "size": 60, "filled": false, "strokeWidth": 1.5}, "encoding": {"x": {"field": "x", "type": "quantitative", "title": null}, "y": {"field": "q1", "type": "quantitative", "axis": {"values": [-3, 0, 3, 6], "labelOverlap": false}, "title": "dGsub"}, "y2": {"field": "q3"}, "stroke": {"field": "g", "type": "nominal", "legend": null}}},
                {"mark": {"type": "bar", "size": 60, "filled": false, "strokeWidth": 2.2}, "encoding": {"x": {"field": "x", "type": "quantitative", "title": null}, "y": {"field": "med", "type": "quantitative", "axis": {"values": [-3, 0, 3, 6], "labelOverlap": false}, "title": "dGsub"}, "y2": {"field": "med"}, "stroke": {"field": "g", "type": "nominal", "legend": null}}}
              ]},
             {"data": {"name": "vio"}, "transform": [{"filter": "datum.p == 'B2'"}, {"calculate": "datum.g == 'S' ? 1 : 2", "as": "x"}, {"calculate": "datum.x - datum.w", "as": "x0"}, {"calculate": "datum.x + datum.w", "as": "x1"}],
              "mark": {"type": "area", "orient": "horizontal", "interpolate": "monotone"},
              "encoding": {"y": {"field": "v", "type": "quantitative", "axis": {"values": [-3, 0, 3, 6], "labelOverlap": false}, "title": "dGsub"}, "x": {"field": "x0", "type": "quantitative", "title": null}, "x2": {"field": "x1"}, "fill": {"field": "g", "type": "nominal", "legend": null}}},
             {"data": {"name": "pts"}, "transform": [{"filter": "datum.p == 'B2'"}, {"calculate": "datum.g == 'S' ? 1 : 2", "as": "x"}, {"bin": {"step": 0.2, "anchor": 0}, "field": "v", "as": "vb"}, {"window": [{"op": "row_number", "as": "r"}], "groupby": ["g", "vb"]}, {"calculate": "datum.x + (datum.r % 2 == 0 ? 1 : -1) * floor(datum.r / 2) * 0.047", "as": "px"}],
              "mark": {"type": "circle", "size": 14, "opacity": 0.62},
              "encoding": {"y": {"field": "v", "type": "quantitative", "axis": {"values": [-3, 0, 3, 6], "labelOverlap": false}, "title": "dGsub"}, "x": {"field": "px", "type": "quantitative", "title": null}, "fill": {"field": "g", "type": "nominal", "legend": null}}}
           ]},
          {"width": 186, "height": 160, "title": {"text": "Wilcoxon P−value = 4.22e−20", "offset": 1.5},
           "layer": [
             {"data": {"name": "box"}, "transform": [{"filter": "datum.p == 'B3'"}, {"calculate": "datum.g == 'S' ? 1 : 2", "as": "x"}],
              "layer": [
                {"mark": {"type": "rule", "strokeWidth": 1.5}, "encoding": {"x": {"field": "x", "type": "quantitative", "scale": {"domain": [0.34, 2.66], "nice": false, "zero": false}, "axis": {"values": [1, 2]}, "title": null}, "y": {"field": "lo", "type": "quantitative", "scale": {"domain": [-2.27, 3.06], "nice": false, "zero": false}, "axis": {"values": [-2, -1, 0, 1, 2, 3], "labelOverlap": false}, "title": "Hydrophobicity Index"}, "y2": {"field": "hi"}, "stroke": {"field": "g", "type": "nominal", "legend": null}}},
                {"mark": {"type": "bar", "size": 60, "filled": false, "strokeWidth": 1.5}, "encoding": {"x": {"field": "x", "type": "quantitative", "title": null}, "y": {"field": "q1", "type": "quantitative", "axis": {"values": [-2, -1, 0, 1, 2, 3], "labelOverlap": false}, "title": "Hydrophobicity Index"}, "y2": {"field": "q3"}, "stroke": {"field": "g", "type": "nominal", "legend": null}}},
                {"mark": {"type": "bar", "size": 60, "filled": false, "strokeWidth": 2.2}, "encoding": {"x": {"field": "x", "type": "quantitative", "title": null}, "y": {"field": "med", "type": "quantitative", "axis": {"values": [-2, -1, 0, 1, 2, 3], "labelOverlap": false}, "title": "Hydrophobicity Index"}, "y2": {"field": "med"}, "stroke": {"field": "g", "type": "nominal", "legend": null}}}
              ]},
             {"data": {"name": "vio"}, "transform": [{"filter": "datum.p == 'B3'"}, {"calculate": "datum.g == 'S' ? 1 : 2", "as": "x"}, {"calculate": "datum.x - datum.w", "as": "x0"}, {"calculate": "datum.x + datum.w", "as": "x1"}],
              "mark": {"type": "area", "orient": "horizontal", "interpolate": "monotone"},
              "encoding": {"y": {"field": "v", "type": "quantitative", "axis": {"values": [-2, -1, 0, 1, 2, 3], "labelOverlap": false}, "title": "Hydrophobicity Index"}, "x": {"field": "x0", "type": "quantitative", "title": null}, "x2": {"field": "x1"}, "fill": {"field": "g", "type": "nominal", "legend": null}}},
             {"data": {"name": "pts"}, "transform": [{"filter": "datum.p == 'B3'"}, {"calculate": "datum.g == 'S' ? 1 : 2", "as": "x"}, {"bin": {"step": 0.15, "anchor": 0}, "field": "v", "as": "vb"}, {"window": [{"op": "row_number", "as": "r"}], "groupby": ["g", "vb"]}, {"calculate": "datum.x + (datum.r % 2 == 0 ? 1 : -1) * floor(datum.r / 2) * 0.055", "as": "px"}],
              "mark": {"type": "circle", "size": 14, "opacity": 0.62},
              "encoding": {"y": {"field": "v", "type": "quantitative", "axis": {"values": [-2, -1, 0, 1, 2, 3], "labelOverlap": false}, "title": "Hydrophobicity Index"}, "x": {"field": "px", "type": "quantitative", "title": null}, "fill": {"field": "g", "type": "nominal", "legend": null}}}
           ]}
        ], "spacing": 18}
      ],
      "spacing": 10
    }
  ],
  "spacing": 24
}
